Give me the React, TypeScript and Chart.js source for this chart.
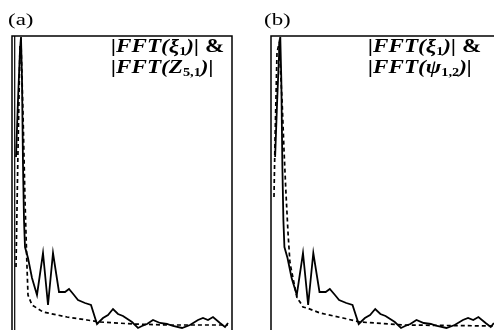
import React, { useEffect, useRef } from "react";
import { Chart, registerables } from "chart.js";

Chart.register(...registerables);

// |FFT(xi_1)| (solid, same in both panels)
const xiFreq = [4, 6, 8, 9, 10, 11, 12, 13, 16, 20, 25, 31, 36, 41, 47, 53, 57, 62, 66, 73, 79, 85, 91, 96, 101, 106, 111, 120, 126, 130, 135, 141, 148, 155, 161, 170, 178, 186, 191, 196, 201, 208, 213, 216];
const xiMag = [173, 230, 280, 293, 250, 165, 110, 83, 72, 52, 35, 77, 25, 77, 38, 38, 41, 35, 30, 27, 25, 6, 12, 15, 21, 16, 14, 8, 2, 4, 6, 10, 7, 6, 4, 2, 5, 10, 12, 10, 13, 7, 3, 7];

// |FFT(Z_{5,1})| (dashed, panel a)
const zFreq = [4, 6, 8, 9, 11, 13, 15, 16, 20, 31, 55, 75, 88, 121, 155, 216];
const zMag = [63, 180, 285, 288, 217, 130, 63, 35, 25, 18, 13, 10, 8, 6, 5, 5];

// |FFT(psi_{1,2})| (dashed, panel b)
const psiFreq = [2.9, 3.9, 5.8, 7.8, 10.7, 12.6, 14.5, 16.5, 18.4, 22.3, 25.2, 28.1, 31, 34.9, 47.5, 69.8, 86.2, 128, 215];
const psiMag = [133, 190, 277, 287, 230, 180, 137, 97, 67, 47, 32, 28, 23, 22, 17, 12, 8, 5, 4];

const toPts = (xs: number[], ys: number[]) => xs.map((x, i) => ({ x, y: ys[i] }));

const boxPlugin = {
  id: "box",
  afterDraw(chart: any, _args: any, opts: any) {
    const { ctx, chartArea } = chart;
    const { left, right, top, bottom } = chartArea;
    ctx.save();
    ctx.strokeStyle = "#000";
    ctx.lineWidth = 1.5;
    ctx.beginPath();
    ctx.moveTo(left, bottom + 2);
    ctx.lineTo(left, top);
    ctx.lineTo(right, top);
    ctx.lineTo(right, bottom + 2);
    ctx.stroke();
    if (opts && opts.inner) {
      ctx.lineWidth = 1.2;
      ctx.beginPath();
      ctx.moveTo(left + opts.inner, top);
      ctx.lineTo(left + opts.inner, bottom + 2);
      ctx.stroke();
    }
    ctx.restore();
  },
};

function Panel(props: {
  dashX: number[];
  dashY: number[];
  padLeft: number;
  padRight: number;
  width: number;
  inner: number;
}) {
  const ref = useRef<HTMLCanvasElement>(null);
  useEffect(() => {
    if (!ref.current) return;
    const chart = new Chart(ref.current, {
      type: "line",
      data: {
        datasets: [
          {
            data: toPts(xiFreq, xiMag),
            borderColor: "#000",
            borderWidth: 1.8,
            pointRadius: 0,
            tension: 0,
            fill: false,
          },
          {
            data: toPts(props.dashX, props.dashY),
            borderColor: "#000",
            borderWidth: 1.7,
            borderDash: [4, 3],
            pointRadius: 0,
            tension: 0,
            fill: false,
          },
        ],
      },
      options: {
        responsive: false,
        animation: false,
        devicePixelRatio: 1,
        layout: { padding: { left: props.padLeft, right: props.padRight, top: 36, bottom: 0 } },
        scales: {
          x: { type: "linear", min: 0, max: 220, display: false },
          y: { type: "linear", min: 0, max: 294, display: false },
        },
        plugins: {
          legend: { display: false },
          tooltip: { enabled: false },
          box: { inner: props.inner },
        } as any,
      },
      plugins: [boxPlugin],
    });
    return () => chart.destroy();
  }, []);
  return <canvas ref={ref} width={props.width} height={330} style={{ width: props.width, height: 330, display: "block" }} />;
}

const serif = "'Liberation Serif', 'DejaVu Serif', serif";
const subStyle: React.CSSProperties = { fontSize: "0.62em", verticalAlign: "-0.3em", lineHeight: 0, fontStyle: "normal" };

function Label(props: { left: number; top: number; children: React.ReactNode }) {
  return (
    <div
      style={{
        position: "absolute",
        left: props.left,
        top: props.top,
        fontFamily: serif,
        fontSize: 17,
        lineHeight: "17px",
        whiteSpace: "nowrap",
        transform: "scaleX(1.35)",
        transformOrigin: "left top",
        color: "#000",
      }}
    >
      {props.children}
    </div>
  );
}

function Formula(props: { left: number; top: number; line2: React.ReactNode }) {
  const st: React.CSSProperties = {
    position: "absolute",
    left: props.left,
    top: props.top,
    fontFamily: serif,
    fontWeight: "bold",
    fontStyle: "italic",
    fontSize: 18.5,
    lineHeight: "21px",
    whiteSpace: "nowrap",
    transform: "scaleX(1.25)",
    transformOrigin: "left top",
    color: "#000",
  };
  return (
    <div style={st}>
      <div>
        |FFT(ξ<sub style={subStyle}>1</sub>)| <span style={{ fontStyle: "normal" }}>&amp;</span>
      </div>
      <div>{props.line2}</div>
    </div>
  );
}

export default function App() {
  return (
    <div style={{ position: "fixed", left: 0, top: 0, width: 494, height: 330, overflow: "hidden", background: "#fff" }}>
      <div style={{ position: "absolute", left: 0, top: 0 }}>
        <Panel dashX={zFreq} dashY={zMag} padLeft={12} padRight={15} width={247} inner={2.7} />
      </div>
      <div style={{ position: "absolute", left: 247, top: 0 }}>
        <Panel dashX={psiFreq} dashY={psiMag} padLeft={24} padRight={9} width={260} inner={0} />
      </div>
      <Label left={8} top={11}>(a)</Label>
      <Label left={264} top={11}>(b)</Label>
      <Formula
        left={111}
        top={36}
        line2={
          <span>
            |FFT(Z<sub style={subStyle}>5,1</sub>)|
          </span>
        }
      />
      <Formula
        left={368}
        top={36}
        line2={
          <span>
            |FFT(ψ<sub style={subStyle}>1,2</sub>)|
          </span>
        }
      />
    </div>
  );
}
